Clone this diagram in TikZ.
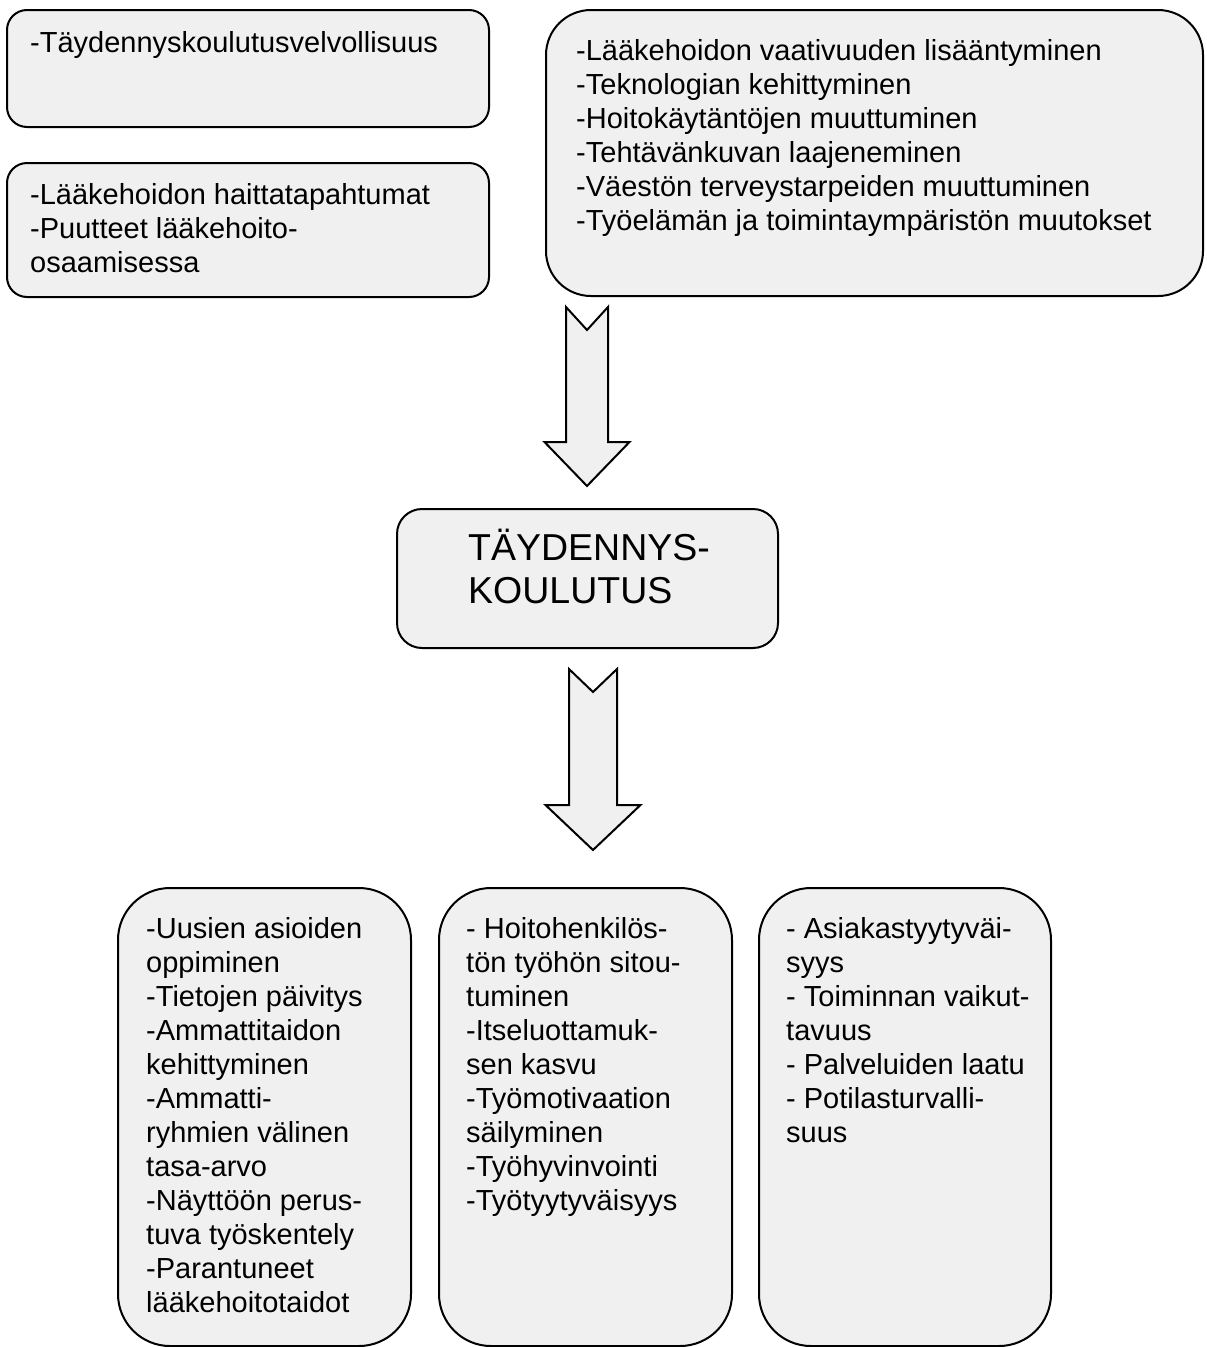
\documentclass[tikz,border=0pt]{standalone}
\usepackage{fontspec}
\setmainfont{Liberation Sans}
\usetikzlibrary{calc}
\definecolor{boxgray}{RGB}{240,240,240}
\tikzset{
	box/.style={draw, line width=2pt, fill=boxgray, inner sep=0pt, anchor=north west},
	txt/.style={anchor=base west, inner sep=0pt, font=\fontsize{29}{34}\selectfont},
	bigtxt/.style={anchor=base west, inner sep=0pt, font=\fontsize{37.5}{43}\selectfont},
	arrowbox/.style={draw, line width=2pt, fill=boxgray, line join=miter}
}
% block arrow: top centre, shaft half width, notch, shaft length, head half width, head length
\newcommand{\blockarrow}[6]{%
	\draw[arrowbox] (#1) ++(-#2,0) -- ++(#2,#3) -- ++(#2,-#3) -- ++(0,#4) -- ++(#5-#2,0)
		-- ++(-#5,#6) -- ++(-#5,-#6) -- ++(#5-#2,0) -- cycle;}
\newcommand{\lines}[1]{\begin{tabular}[t]{@{}l@{}}#1\end{tabular}}

\begin{document}
\begin{tikzpicture}[x=1pt, y=-1pt]
	\useasboundingbox (0,0) rectangle (1207,1347);

	\node[box, rounded corners=20pt, minimum width=482pt, minimum height=117pt] (duty) at (6,9) {};
	\node[box, rounded corners=20pt, minimum width=482pt, minimum height=134pt] (risks) at (6,162) {};
	\node[box, rounded corners=45pt, minimum width=657pt, minimum height=286pt] (change) at (545,9) {};
	\node[box, rounded corners=25pt, minimum width=381pt, minimum height=139pt] (core) at (396,508) {};
	\node[box, rounded corners=52pt, minimum width=293pt, minimum height=458pt] (learn) at (117,887) {};
	\node[box, rounded corners=52pt, minimum width=293pt, minimum height=458pt] (staff) at (438,887) {};
	\node[box, rounded corners=52pt, minimum width=292pt, minimum height=458pt] (quality) at (758,887) {};

	\node[txt] (dutytxt) at ($(duty.north west)+(24,43)$) {\lines{-Täydennyskoulutusvelvollisuus}};
	\node[txt] (riskstxt) at ($(risks.north west)+(24,42)$) {\lines{-Lääkehoidon haittatapahtumat\\
		-Puutteet lääkehoito-\\ osaamisessa}};
	\node[txt] (changetxt) at ($(change.north west)+(31,51)$) {\lines{-Lääkehoidon vaativuuden lisääntyminen\\
		-Teknologian kehittyminen\\ -Hoitokäytäntöjen muuttuminen\\ -Tehtävänkuvan laajeneminen\\
		-Väestön terveystarpeiden muuttuminen\\ -Työelämän ja toimintaympäristön muutokset}};
	\node[bigtxt] (coretxt) at ($(core.north west)+(72,52)$) {\lines{TÄYDENNYS-\\ KOULUTUS}};
	\node[txt] (learntxt) at ($(learn.north west)+(29,51)$) {\lines{-Uusien asioiden\\ oppiminen\\
		-Tietojen päivitys\\ -Ammattitaidon\\ kehittyminen\\ -Ammatti-\\ ryhmien välinen\\ tasa-arvo\\
		-Näyttöön perus-\\ tuva työskentely\\ -Parantuneet\\ lääkehoitotaidot}};
	\node[txt] (stafftxt) at ($(staff.north west)+(28,51)$) {\lines{- Hoitohenkilös-\\ tön työhön sitou-\\
		tuminen\\ -Itseluottamuk-\\ sen kasvu\\ -Työmotivaation\\ säilyminen\\ -Työhyvinvointi\\ -Työtyytyväisyys}};
	\node[txt] (qualitytxt) at ($(quality.north west)+(28,51)$) {\lines{- Asiakastyytyväi-\\ syys\\
		- Toiminnan vaikut-\\ tavuus\\ - Palveluiden laatu\\ - Potilasturvalli-\\ suus}};

	\coordinate (in) at (587,307);
	\coordinate (out) at (593,669);
	\blockarrow{in}{21}{23}{135}{42.5}{44}
	\blockarrow{out}{24}{23}{136}{47.5}{45}
\end{tikzpicture}
\end{document}
